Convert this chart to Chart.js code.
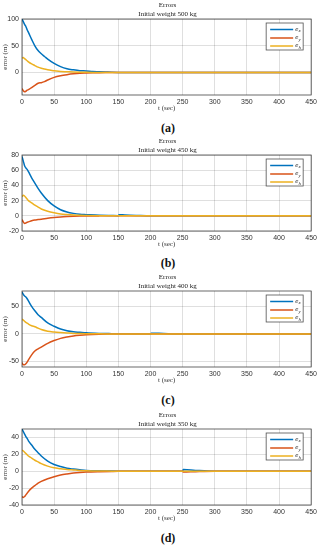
<!DOCTYPE html>
<html>
<head>
<meta charset="utf-8">
<script src="https://cdn.jsdelivr.net/npm/chart.js@4/dist/chart.umd.min.js"></script>
<style>
  html, body { margin: 0; padding: 0; background: #fff; }
  body { width: 320px; height: 550px; position: relative; overflow: hidden; }
  .wrap { position: absolute; left: 0; width: 320px; height: 113px; }
  .cap { position: absolute; left: 118px; width: 100px; text-align: center;
         font-family: "Liberation Serif", "DejaVu Serif", serif; font-weight: bold; font-size: 12px; line-height: 14px; color: #111; }
</style>
</head>
<body>
<div class="wrap" style="top:0px"><canvas id="c1"></canvas></div>
<div class="cap" style="top:121px">(a)</div>
<div class="wrap" style="top:136px"><canvas id="c2"></canvas></div>
<div class="cap" style="top:256px">(b)</div>
<div class="wrap" style="top:272px"><canvas id="c3"></canvas></div>
<div class="cap" style="top:393px">(c)</div>
<div class="wrap" style="top:410px"><canvas id="c4"></canvas></div>
<div class="cap" style="top:531px">(d)</div>
<script>
// ---- data ----
const xTicks = [0, 50, 100, 150, 200, 250, 300, 350, 400, 450];
const titles = ["Initial weight 500 kg", "Initial weight 450 kg", "Initial weight 400 kg", "Initial weight 350 kg"];

const t1  = [0,2,4,6,8,10,15,20,25,30,35,40,50,60,70,80,90,100,110,120,130,140,150,200,250,300,350,400,450];
const ex1 = [100,95,90,86,80,75,62,50,41,35,30,25,17,11,7,5,3.5,3,2,1.5,1,0.5,0.2,0,0,0,0,0,0];
const ey1 = [-30,-34,-36,-35,-33,-32,-28,-24,-20,-19,-17,-14,-9,-6,-4,-2.5,-1.5,-1,-0.6,-0.3,-0.1,0,0,0,0,0,0,0,0];
const eh1 = [27,28,26,24,22,20,16,13,10,8,6.5,5,3.5,2,1.5,1,0.6,0.3,0.1,0,0,0,0,0,0,0,0,0,0];
const yTicks1 = [0, 50, 100];
const yRange1 = [-42, 100];

const t2  = [0,2,4,6,8,10,15,20,25,30,40,50,60,70,80,90,100,120,140,150,151,160,180,200,250,300,350,400,450];
const ex2 = [78,72,66,63,61,58,50,43,36,30,20,13,8,5,3.2,2,1.5,0.6,0.3,0.2,1.5,1.0,0.4,0,0,0,0,0,0];
const ey2 = [-5,-8,-10,-9.5,-8.5,-8,-6.5,-5.5,-5,-4.5,-3.2,-2.2,-1.5,-1,-0.6,-0.4,-0.3,-0.1,0,0,0,0,0,0,0,0,0,0,0];
const eh2 = [25,27,26,24,22,20,17,14,11.5,9,6,4,2.5,1.7,1.1,0.7,0.5,0.2,0,0,0,0,0,0,0,0,0,0,0];
const yTicks2 = [-20, 0, 20, 40, 60, 80];
const yRange2 = [-20, 80];

const t3  = [0,2,4,6,8,10,15,20,25,30,40,50,60,70,80,90,100,120,140,150,200,201,220,250,300,350,400,450];
const ex3 = [76,72,69,67,64,60,50,42,35,30,20,14,9,6,4,3,2,1,0.5,0.3,0.1,1.5,0.8,0,0,0,0,0];
const ey3 = [-52,-56,-56,-54,-51,-47,-38,-31,-27,-24,-17,-12,-8,-5.5,-3.7,-2.5,-1.6,-0.6,-0.2,-0.1,0,0,0,0,0,0,0,0];
const eh3 = [27,25,23,21,19.5,18,15,13,10.5,8,5,3.5,2.5,1.7,1,0.7,0.5,0.2,0.1,0,0,0,0,0,0,0,0,0];
const yTicks3 = [-50, 0, 50];
const yRange3 = [-60, 78];

const t4  = [0,2,4,6,8,10,15,20,25,30,40,50,60,70,80,90,100,120,140,150,250,251,270,300,350,400,450];
const ex4 = [50,47,44,41,39,36,31,26,22,18,12,8,5.5,3.5,2.5,1.7,1,0.5,0.2,0.1,0,2,1,0,0,0,0];
const ey4 = [-30,-31,-30,-28,-26,-24,-20,-17,-14,-12,-9,-6.5,-4.5,-3.2,-2.2,-1.5,-1,-0.5,-0.2,-0.1,0,-1,-0.5,0,0,0,0];
const eh4 = [25,24,22.5,21,19.5,18,15.5,13,11,9,6,4,3,2,1.5,1,0.6,0.2,0.1,0,0,0,0,0,0,0,0];
const yTicks4 = [-40, -20, 0, 20, 40];
const yRange4 = [-40, 50];

const seriesNames = [["e", "x"], ["e", "y"], ["e", "h"]];
const colors = ["#0072BD", "#D95319", "#EDB120"];

// ---- drawing ----
const SERIF = '"Liberation Serif", "DejaVu Serif", serif';
const SANS = '"Liberation Sans", Arial, sans-serif';

const framePlugin = {
  id: 'frame',
  beforeDraw(chart) {
    const ctx = chart.ctx;
    const ca = chart.chartArea;
    ctx.save();
    ctx.fillStyle = '#fff';
    ctx.fillRect(0, 0, chart.width, chart.height);
    ctx.fillStyle = '#222';
    ctx.textAlign = 'center';
    ctx.textBaseline = 'middle';
    ctx.font = '7px ' + SERIF;
    const cx = (ca.left + ca.right) / 2 + 1;
    ctx.fillText('Errors', cx, 5.5);
    ctx.fillText(chart.options.plugins.frame.title, cx, 14);
    ctx.restore();
  },
  afterDatasetsDraw(chart) {
    const ctx = chart.ctx;
    const ca = chart.chartArea;
    ctx.save();
    ctx.strokeStyle = 'rgba(38,38,38,0.85)';
    ctx.lineWidth = 0.8;
    ctx.strokeRect(ca.left, ca.top, ca.right - ca.left, ca.bottom - ca.top);
    // legend
    const bx = ca.right - 45, by = ca.top + 4, bw = 37, bh = 27;
    ctx.fillStyle = '#fff';
    ctx.fillRect(bx, by, bw, bh);
    ctx.strokeStyle = 'rgba(38,38,38,0.8)';
    ctx.lineWidth = 0.8;
    ctx.strokeRect(bx, by, bw, bh);
    const rows = [6.5, 15, 23];
    for (let i = 0; i < 3; i++) {
      const y = by + rows[i];
      ctx.strokeStyle = colors[i];
      ctx.lineWidth = 1.5;
      ctx.beginPath();
      ctx.moveTo(bx + 4, y);
      ctx.lineTo(bx + 27, y);
      ctx.stroke();
      ctx.fillStyle = '#222';
      ctx.textAlign = 'left';
      ctx.textBaseline = 'middle';
      ctx.font = 'italic 7px ' + SERIF;
      ctx.fillText(seriesNames[i][0], bx + 29, y - 0.5);
      ctx.font = 'italic 5px ' + SERIF;
      ctx.fillText(seriesNames[i][1], bx + 32.3, y + 1.5);
    }
    ctx.restore();
  }
};

function makeChart(id, t, ex, ey, eh, yTicks, yRange, title) {
  const mk = (arr) => t.map((v, i) => ({ x: v, y: arr[i] }));
  const lists = [ex, ey, eh];
  const datasets = lists.map((arr, i) => ({
    label: seriesNames[i].join('_'),
    data: mk(arr),
    borderColor: colors[i],
    backgroundColor: colors[i],
    borderWidth: 1.5,
    pointRadius: 0,
    tension: 0.3,
    cubicInterpolationMode: 'monotone',
    fill: false,
    order: 2 - i
  }));
  return new Chart(document.getElementById(id), {
    type: 'line',
    data: { datasets },
    options: {
      responsive: true,
      maintainAspectRatio: false,
      animation: false,
      events: [],
      layout: { padding: { top: 19, right: 7, left: 0, bottom: 0 } },
      plugins: {
        legend: { display: false },
        tooltip: { enabled: false },
        title: { display: false },
        frame: { title: title }
      },
      scales: {
        x: {
          type: 'linear',
          min: 0, max: 450,
          afterBuildTicks(s) { s.ticks = xTicks.map(v => ({ value: v })); },
          afterFit(s) { s.height = 18; },
          grid: { color: 'rgba(0,0,0,0.16)', lineWidth: 0.8, drawTicks: false },
          border: { display: false },
          ticks: { padding: 3, color: '#333', font: { family: SANS, size: 7 }, maxRotation: 0, autoSkip: false },
          title: { display: true, text: 't (sec)', color: '#333', font: { family: SERIF, size: 7 }, padding: { top: 0, bottom: 1 } }
        },
        y: {
          type: 'linear',
          min: yRange[0], max: yRange[1],
          afterBuildTicks(s) { s.ticks = yTicks.map(v => ({ value: v })); },
          afterFit(s) { s.width = 22; },
          grid: { color: 'rgba(0,0,0,0.16)', lineWidth: 0.8, drawTicks: false },
          border: { display: false },
          ticks: { padding: 3, color: '#333', font: { family: SANS, size: 7 }, autoSkip: false },
          title: { display: true, text: 'error (m)', color: '#333', font: { family: SERIF, size: 7 }, padding: { top: 1, bottom: 0 } }
        }
      }
    },
    plugins: [framePlugin]
  });
}

makeChart('c1', t1, ex1, ey1, eh1, yTicks1, yRange1, titles[0]);
makeChart('c2', t2, ex2, ey2, eh2, yTicks2, yRange2, titles[1]);
makeChart('c3', t3, ex3, ey3, eh3, yTicks3, yRange3, titles[2]);
makeChart('c4', t4, ex4, ey4, eh4, yTicks4, yRange4, titles[3]);
</script>
</body>
</html>
